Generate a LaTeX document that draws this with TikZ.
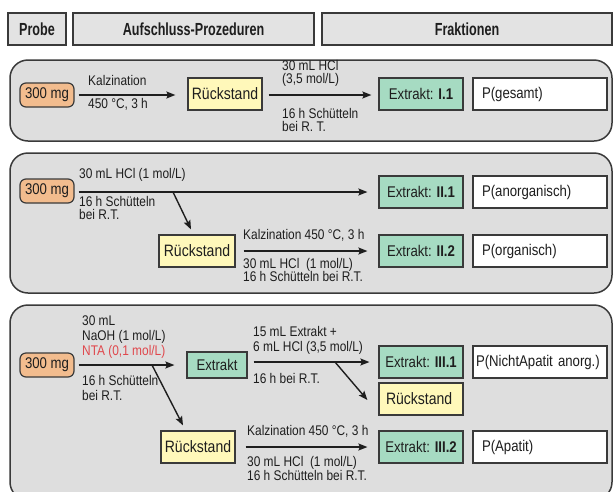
\documentclass[tikz,border=0pt]{standalone}
\usepackage{fontspec}
\setmainfont[FakeStretch=0.85]{Liberation Sans}
\newfontfamily\headfont[FakeStretch=0.72]{Liberation Sans}
\usetikzlibrary{arrows.meta}
\definecolor{panelgray}{HTML}{DEDEDE}
\definecolor{headgray}{HTML}{E3E3E3}
\definecolor{edge}{HTML}{3A3A3A}
\definecolor{txt}{HTML}{1E1E1E}
\definecolor{orangebox}{HTML}{F2BC8E}
\definecolor{yellowbox}{HTML}{FFF8BA}
\definecolor{greenbox}{HTML}{A6DBC2}
\definecolor{redtxt}{HTML}{E0474C}
\tikzset{
  lbl/.style={inner sep=0pt, anchor=west, text=txt, font=\fontsize{14}{15}\selectfont, text height=10pt, text depth=3pt},
  boxbase/.style={draw=edge, line width=1.2pt, inner sep=0pt, text=txt, font=\fontsize{15.5}{17}\selectfont},
  sample/.style={boxbase, fill=orangebox, rounded corners=6pt, minimum width=54pt, minimum height=24pt},
  resid/.style={boxbase, fill=yellowbox, minimum width=74pt, minimum height=32pt, font=\fontsize{16.5}{18}\selectfont},
  extr/.style={boxbase, fill=greenbox, minimum width=84pt, minimum height=32pt},
  frac/.style={boxbase, fill=white, minimum width=134pt, minimum height=32pt, inner xsep=9pt, text width=116pt, align=left},
  head/.style={draw=edge, line width=1.3pt, fill=headgray, inner sep=0pt, minimum height=32pt, text=txt, font=\headfont\bfseries\fontsize{17.5}{19}\selectfont},
  panel/.style={draw=edge, line width=1.5pt, fill=panelgray, rounded corners=18pt},
  arr/.style={line width=1.4pt, draw=txt, -{Stealth[length=9pt,width=7pt,inset=1.5pt]}},
}
\begin{document}
\begin{tikzpicture}[x=1pt,y=-1pt]
\useasboundingbox (0,0) rectangle (615,491);
\clip (0,0) rectangle (615,491);
\fill[white] (0,0) rectangle (615,491);

% header
\node[head, minimum width=58pt] (h1) at (37,29) {Probe};
\node[head, minimum width=241pt] (h2) at (193.5,29) {Aufschluss-Prozeduren};
\node[head, minimum width=290pt] (h3) at (467,29) {Fraktionen};

% panels
\draw[panel] (10,60) rectangle (612,141);
\draw[panel] (10,153) rectangle (612,293);
\draw[panel] (10,305) rectangle (612,500);

% ---------- panel 1
\node[sample] (s1) at (47,95) {300 mg};
\node[resid] (r1) at (225,94) {Rückstand};
\node[extr] (e11) at (421,94) {Extrakt: \textbf{I.1}};
\node[frac] (p1) at (540,94) {P(gesamt)};
\draw[arr, shorten <=4pt, shorten >=12pt] (s1.east |- 0,95) -- (r1.west |- 0,95);
\draw[arr, shorten <=6pt, shorten >=7pt] (r1.east |- 0,95) -- (e11.west |- 0,95);
\node[lbl] (l1a) at (88,82) {Kalzination};
\node[lbl] (l1b) at (88,105) {450 °C, 3 h};
\node[lbl] (l1c) at (282,67) {30 mL HCl};
\node[lbl] (l1d) at (282,80) {(3,5 mol/L)};
\node[lbl] (l1e) at (282,115) {16 h Schütteln};
\node[lbl] (l1f) at (282,128) {bei R. T.};

% ---------- panel 2
\node[sample] (s2) at (47,191) {300 mg};
\node[extr] (e21) at (421,192) {Extrakt: \textbf{II.1}};
\node[frac] (p21) at (540,192) {P(anorganisch)};
\node[resid, minimum width=76pt] (r2) at (197,251) {Rückstand};
\node[extr] (e22) at (421,251) {Extrakt: \textbf{II.2}};
\node[frac] (p22) at (540,251) {P(organisch)};
\coordinate (d2) at (173,192);
\draw[arr, shorten <=4pt, shorten >=11pt] (s2.east |- e21) -- (e21.west);
\draw[arr] (d2) -- ([xshift=-6pt,yshift=5pt]r2.north);
\draw[arr, shorten <=8pt, shorten >=11pt] (r2.east) -- (e22.west);
\node[lbl] (l2a) at (79,175) {30 mL HCl (1 mol/L)};
\node[lbl] (l2b) at (79,203) {16 h Schütteln};
\node[lbl] (l2c) at (79,216) {bei R.T.};
\node[lbl] (l2d) at (243,236) {Kalzination 450 °C, 3 h};
\node[lbl] (l2e) at (243,265) {30 mL HCl\ \ (1 mol/L)};
\node[lbl] (l2f) at (243,278) {16 h Schütteln bei R.T.};

% ---------- panel 3
\node[sample] (s3) at (47,365) {300 mg};
\node[boxbase, fill=greenbox, minimum width=60pt, minimum height=26pt] (e3) at (217,365) {Extrakt};
\node[resid] (r3) at (198,447) {Rückstand};
\node[extr] (e31) at (421,362) {Extrakt: \textbf{III.1}};
\node[resid, minimum width=84pt, inner xsep=7pt, text width=70pt, align=left] (r31) at (421,399) {Rückstand};
\node[frac, inner xsep=3pt, text width=128pt] (p31) at (540,362) {P(NichtApatit anorg.)};
\node[extr] (e32) at (421,447) {Extrakt: \textbf{III.2}};
\node[frac] (p32) at (540,447) {P(Apatit)};
\coordinate (d3) at (152,365);
\coordinate (d4) at (335,362);
\draw[arr, shorten <=4pt, shorten >=12pt] (s3.east |- e3) -- (e3.west);
\draw[arr] (d3) -- ([xshift=-15pt,yshift=5pt]r3.north);
\draw[arr, shorten <=6pt, shorten >=9pt] (e3.east |- e31) -- (e31.west);
\draw[arr] (d4) -- ([xshift=-11pt,yshift=-1pt]r31.west);
\draw[arr, shorten <=10pt, shorten >=11pt] (r3.east) -- (e32.west);
\node[lbl] (l3a) at (82,322) {30 mL};
\node[lbl] (l3b) at (82,337) {NaOH (1 mol/L)};
\node[lbl, text=redtxt] (l3c) at (82,352) {NTA (0,1 mol/L)};
\node[lbl] (l3d) at (82,382) {16 h Schütteln};
\node[lbl] (l3e) at (82,397) {bei R.T.};
\node[lbl] (l3i) at (253,333) {15 mL Extrakt +};
\node[lbl] (l3j) at (253,348) {6 mL HCl (3,5 mol/L)};
\node[lbl] (l3k) at (253,380) {16 h bei R.T.};
\node[lbl] (l3f) at (247,432) {Kalzination 450 °C, 3 h};
\node[lbl] (l3g) at (247,463) {30 mL HCl\ \ (1 mol/L)};
\node[lbl] (l3h) at (247,477) {16 h Schütteln bei R.T.};
\end{tikzpicture}
\end{document}
